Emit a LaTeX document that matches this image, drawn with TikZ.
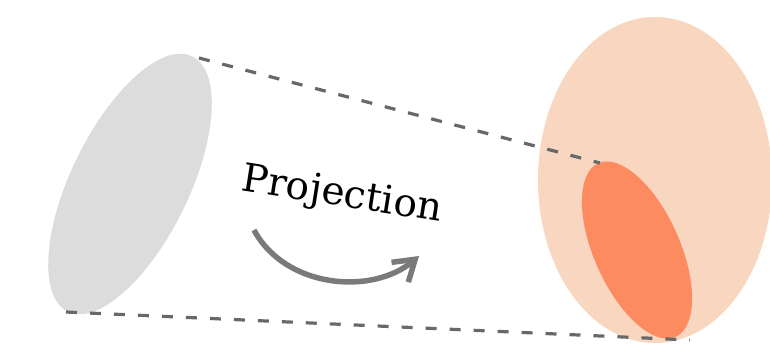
\documentclass[tikz,border=0pt]{standalone}
\usepackage{fontspec}
\newfontfamily\labelfont{DejaVu Serif}
\usetikzlibrary{arrows.meta}
\definecolor{greyfill}{HTML}{DCDCDC}
\definecolor{peach}{HTML}{F8D6BF}
\definecolor{orangefill}{HTML}{FC8C60}
\definecolor{dashgrey}{HTML}{686868}
\definecolor{arrowgrey}{HTML}{7A7A7A}
\tikzset{
  dashline/.style={dashgrey, line width=3.2pt, dash pattern=on 11pt off 13pt},
  projarrow/.style={arrowgrey, line width=5.5pt, -{Straight Barb[length=20pt,width=26pt,line width=5.5pt]}},
  label text/.style={font=\labelfont\fontsize{39}{39}\selectfont, rotate=-9, inner sep=0pt}
}
\begin{document}
\begin{tikzpicture}[x=1pt,y=-1pt]
\useasboundingbox (0,0) rectangle (770,343);
\clip (0,0) rectangle (770,343);
% source ellipse
\fill[greyfill, rotate around={64:(130,184)}] (130,184) ellipse [x radius=142, y radius=59];
% target ellipses
\fill[peach] (655,180) ellipse [x radius=117, y radius=163];
\fill[orangefill, rotate around={-66:(637,250)}] (637,250) ellipse [x radius=95, y radius=43];
% named end points
\coordinate (s1) at (199,58);
\coordinate (s2) at (66,312);
\coordinate (t1) at (600,163);
\coordinate (t2) at (690,340);
\draw[dashline] (s1) -- (t1);
\draw[dashline] (s2) -- (t2);
% label and arrow
\node[label text] (lab) at (342,196) {Projection};
\coordinate (a1) at (254,230);
\coordinate (a2) at (419,256);
\draw[projarrow] (a1) .. controls (285,288) and (372,296) .. (a2);
\end{tikzpicture}
\end{document}
